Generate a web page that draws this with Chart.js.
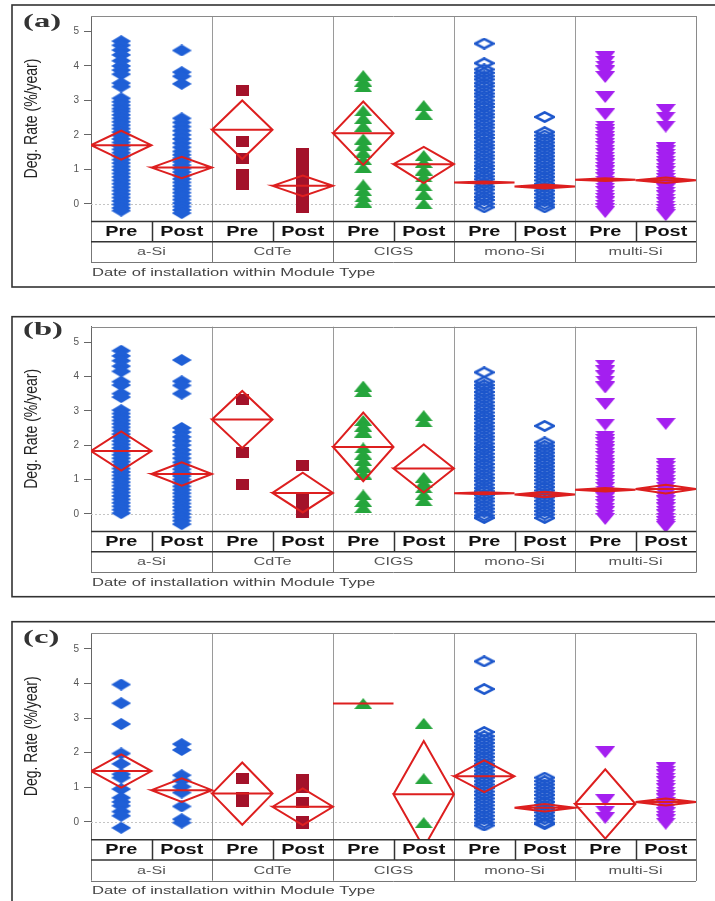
<!DOCTYPE html>
<html><head><meta charset="utf-8">
<script src="https://cdn.jsdelivr.net/npm/chart.js@4.4.1/dist/chart.umd.min.js"></script>
<style>
html,body{margin:0;padding:0;background:#fff;}
#wrap{position:relative;width:715px;height:901px;overflow:hidden;background:#fff;}
canvas{position:absolute;left:0;}
</style></head><body>
<div id="wrap">
<canvas id="cA" width="715" height="300" style="top:0px"></canvas>
<canvas id="cB" width="715" height="305" style="top:300px"></canvas>
<canvas id="cC" width="715" height="296" style="top:605px"></canvas>
</div>
<script>
// ---------- labels ----------
const moduleTypes = ['a-Si','CdTe','CIGS','mono-Si','multi-Si'];
const periods = ['Pre','Post'];
const yTicks = [0,1,2,3,4,5];
const panelLabels = ['(a)','(b)','(c)'];
const yTitle = 'Deg. Rate (%/year)';
const xTitle = 'Date of installation within Module Type';

// ---------- panel (a) ----------
const aSiPreA = [4.72,4.6,4.46,4.32,4.15,4.0,3.88,3.76,3.5,3.4,3.06,2.96,2.86,2.76,2.68,2.58,2.48,2.38,2.28,2.18,2.08,1.98,1.88,1.78,1.68,1.58,1.48,1.38,1.28,1.18,1.08,0.98,0.88,0.78,0.68,0.58,0.48,0.38,0.28,0.18,0.08,-0.02,-0.12,-0.2];
const aSiPostA = [4.45,3.82,3.7,3.48,2.48,2.36,2.24,2.12,2.0,1.88,1.76,1.64,1.52,1.42,1.32,1.22,1.12,1.02,0.92,0.82,0.72,0.62,0.52,0.42,0.32,0.22,0.12,0.02,-0.08,-0.18,-0.27];
const cdtePreA = [3.3,1.8,1.32,0.85,0.55];
const cdtePostA = [1.45,1.32,1.2,1.06,0.92,0.8,0.68,0.56,0.45,0.34,0.22,0.1,0.0,-0.1];
const cigsPreA = [3.72,3.56,3.4,2.7,2.48,2.25,1.88,1.68,1.48,1.28,1.05,0.55,0.38,0.2,0.05];
const cigsPostA = [2.85,2.6,1.4,1.2,0.98,0.78,0.52,0.28,0.0];
const monoPreA = [4.65,4.08,3.9,3.8,3.7,3.61,3.5,3.41,3.3,3.2,3.11,3.0,2.9,2.81,2.7,2.6,2.51,2.4,2.3,2.21,2.1,2.0,1.91,1.8,1.7,1.61,1.5,1.4,1.31,1.2,1.1,1.01,0.9,0.8,0.71,0.6,0.5,0.41,0.3,0.2,0.11,0.0,-0.1];
const monoPostA = [2.52,2.08,1.98,1.88,1.78,1.68,1.58,1.48,1.38,1.28,1.18,1.08,0.98,0.88,0.78,0.68,0.58,0.48,0.38,0.28,0.18,0.08,-0.02,-0.1];
const multiPreA = [4.25,4.12,3.98,3.84,3.68,3.1,2.6,2.24,2.14,2.04,1.94,1.84,1.74,1.64,1.54,1.44,1.34,1.24,1.14,1.04,0.94,0.84,0.74,0.64,0.54,0.44,0.34,0.24,0.14,0.04,-0.06,-0.16,-0.24];
const multiPostA = [2.72,2.5,2.24,1.62,1.52,1.42,1.32,1.22,1.12,1.02,0.92,0.82,0.72,0.62,0.52,0.42,0.32,0.22,0.12,0.02,-0.08,-0.18,-0.26,-0.33];
const meanA  = [1.7, 1.05, 2.15, 0.52, 2.05, 1.15, 0.62, 0.5, 0.7, 0.68];
const upperA = [2.12,1.36, 3.0, 0.82, 2.97, 1.65, 0.65, 0.56, 0.74, 0.76];
const lowerA = [1.28,0.74, 1.3, 0.22, 1.13, 0.6, 0.59, 0.44, 0.66, 0.6];

// ---------- panel (b) ----------
const aSiPreB = [4.75,4.6,4.46,4.3,4.15,3.85,3.75,3.5,3.4,3.02,2.92,2.82,2.72,2.62,2.52,2.42,2.32,2.22,2.12,2.02,1.92,1.82,1.72,1.62,1.52,1.42,1.32,1.22,1.12,1.02,0.92,0.82,0.72,0.62,0.52,0.42,0.32,0.22,0.12,0.02];
const aSiPostB = [4.48,3.86,3.74,3.5,2.5,2.38,2.24,2.12,2.0,1.86,1.74,1.62,1.5,1.4,1.3,1.2,1.1,1.0,0.9,0.8,0.7,0.6,0.5,0.4,0.3,0.2,0.1,0.0,-0.1,-0.2,-0.3];
const cdtePreB = [3.32,1.8,0.86];
const cdtePostB = [1.4,0.42,0.3,0.16,0.05];
const cigsPreB = [3.72,3.56,2.72,2.55,2.38,1.92,1.74,1.55,1.36,1.16,0.55,0.36,0.18];
const cigsPostB = [2.86,2.68,1.06,0.9,0.76,0.56,0.38];
const monoPreB = [4.12,3.85,3.75,3.66,3.55,3.45,3.36,3.25,3.15,3.06,2.95,2.85,2.76,2.65,2.55,2.46,2.35,2.25,2.16,2.05,1.95,1.86,1.75,1.65,1.56,1.45,1.35,1.26,1.15,1.05,0.96,0.85,0.75,0.66,0.55,0.45,0.36,0.25,0.15,0.06,-0.05,-0.12];
const monoPostB = [2.56,2.08,1.98,1.88,1.78,1.68,1.58,1.48,1.38,1.28,1.18,1.08,0.98,0.88,0.78,0.68,0.58,0.48,0.38,0.28,0.18,0.08,-0.02,-0.12];
const multiPreB = [4.3,4.15,4.0,3.85,3.68,3.2,2.6,2.25,2.15,2.05,1.95,1.85,1.75,1.65,1.55,1.45,1.35,1.25,1.15,1.05,0.95,0.85,0.75,0.65,0.55,0.45,0.35,0.25,0.15,0.05,-0.05,-0.15];
const multiPostB = [2.62,1.46,1.36,1.26,1.16,1.06,0.96,0.86,0.76,0.66,0.56,0.46,0.36,0.26,0.16,0.06,-0.04,-0.14,-0.24,-0.32,-0.38];
const meanB  = [1.83,1.16,2.75,0.61,1.95,1.32,0.6, 0.56,0.7, 0.72];
const upperB = [2.4, 1.5, 3.58,1.2, 2.95,2.02,0.63,0.64,0.75,0.85];
const lowerB = [1.26,0.82,1.92,0.04,0.95,0.62,0.57,0.48,0.65,0.59];

// ---------- panel (c) ----------
const aSiPreC = [3.97,3.43,2.83,1.98,1.68,1.38,1.28,0.95,0.7,0.58,0.47,0.3,0.18,-0.17];
const aSiPostC = [2.25,2.08,1.35,1.2,1.02,0.85,0.45,0.08,-0.02];
const cdtePreC = [1.25,0.72,0.6];
const cdtePostC = [1.22,1.0,0.55,0.02,-0.04];
const cigsPreC = [3.42];
const cigsPostC = [2.85,1.25,-0.02];
const monoPreC = [4.64,3.84,2.6,2.48,2.38,2.28,2.18,2.08,1.98,1.88,1.78,1.68,1.58,1.48,1.38,1.28,1.18,1.08,0.98,0.88,0.78,0.68,0.58,0.48,0.38,0.28,0.18,0.08,-0.02,-0.1];
const monoPostC = [1.28,1.18,1.08,0.98,0.88,0.78,0.68,0.58,0.48,0.38,0.28,0.18,0.08,-0.02,-0.06];
const multiPreC = [2.02,0.63,0.3,0.12];
const multiPostC = [1.55,1.45,1.35,1.25,1.15,1.05,0.95,0.85,0.75,0.65,0.55,0.45,0.35,0.25,0.15,0.05,-0.05];
const meanC  = [1.47,0.92,0.82, 0.44, 3.42,0.8,  1.32,0.41,0.52, 0.58];
const upperC = [1.95,1.26,1.72, 0.97, 3.42,2.34, 1.78,0.52,1.52, 0.68];
const lowerC = [0.99,0.58,-0.08,-0.09,3.42,-0.74,0.86,0.3, -0.48,0.48];

// ---------- styling ----------
const RED = '#dd1f1f';
function makeMarker(kind, color, w, h) {
  const c = document.createElement('canvas'); c.width = w; c.height = h;
  const g = c.getContext('2d');
  g.beginPath();
  if (kind === 'diamond' || kind === 'open') {
    const i = kind === 'open' ? 1.3 : 0;
    g.moveTo(w/2, i); g.lineTo(w - i, h/2); g.lineTo(w/2, h - i); g.lineTo(i, h/2); g.closePath();
  } else if (kind === 'square') {
    g.rect(0, 0, w, h);
  } else if (kind === 'up') {
    g.moveTo(w/2, 0); g.lineTo(w, h); g.lineTo(0, h); g.closePath();
  } else {
    g.moveTo(0, 0); g.lineTo(w, 0); g.lineTo(w/2, h); g.closePath();
  }
  if (kind === 'open') { g.strokeStyle = color; g.lineWidth = 2.6; g.stroke(); }
  else { g.fillStyle = color; g.fill(); }
  return c;
}
const markers = [
  makeMarker('diamond', '#1f5fd6', 20, 12),
  makeMarker('square', '#a3122a', 13, 11),
  makeMarker('up', '#25a53c', 18, 11),
  makeMarker('open', '#1d57cc', 21, 12),
  makeMarker('down', '#a41ff0', 20, 12)
];

function sText(ctx, txt, x, y, sx, align) {
  ctx.save(); ctx.translate(x, y); ctx.scale(sx, 1);
  ctx.textAlign = align; ctx.textBaseline = 'middle';
  ctx.fillText(txt, 0, 0); ctx.restore();
}
function seg(ctx, x1, y1, x2, y2) { ctx.beginPath(); ctx.moveTo(x1, y1); ctx.lineTo(x2, y2); ctx.stroke(); }

const decor = {
  id: 'decor',
  beforeDatasetsDraw(chart, args, o) {
    const { ctx, chartArea: a, scales: { x, y } } = chart;
    ctx.save();
    ctx.strokeStyle = '#c4c4c4'; ctx.lineWidth = 1; ctx.setLineDash([2, 2]);
    const y0 = Math.round(y.getPixelForValue(0)) + 0.5;
    seg(ctx, a.left, y0, a.right, y0);
    ctx.setLineDash([]);
    ctx.strokeStyle = '#9a9a9a';
    for (let k = 1; k < moduleTypes.length; k++) {
      const px = Math.round(x.getPixelForValue(2 * k)) + 0.5;
      seg(ctx, px, a.top, px, a.bottom);
    }
    ctx.restore();
  },
  afterDraw(chart, args, o) {
    const { ctx, chartArea: a, scales: { x } } = chart;
    ctx.save();
    const L = a.left, R = a.right, B = a.bottom;
    const r2 = B + 20.7, r3 = B + 41.4;
    // plot box
    ctx.strokeStyle = '#8a8a8a'; ctx.lineWidth = 1;
    seg(ctx, L, Math.round(a.top) + 0.5, R, Math.round(a.top) + 0.5);
    seg(ctx, Math.round(R) + 0.5, a.top, Math.round(R) + 0.5, r3);
    // group boundaries in table
    ctx.strokeStyle = '#777';
    for (let k = 0; k <= moduleTypes.length; k++) {
      const px = Math.round(x.getPixelForValue(2 * k)) + 0.5;
      seg(ctx, px, B, px, r3);
    }
    seg(ctx, L, Math.round(r3) + 0.5, R, Math.round(r3) + 0.5);
    // pre/post row
    ctx.strokeStyle = '#333'; ctx.lineWidth = 1.5;
    seg(ctx, L, B + 0.5, R, B + 0.5);
    seg(ctx, L, r2, R, r2);
    for (let k = 0; k < moduleTypes.length; k++) {
      const px = Math.round(x.getPixelForValue(2 * k + 1)) + 0.5;
      seg(ctx, px, B, px, r2);
    }
    // texts
    ctx.fillStyle = '#111'; ctx.font = 'bold 14px "Liberation Sans", Arial, sans-serif';
    for (let i = 0; i < 10; i++) {
      sText(ctx, periods[i % 2], x.getPixelForValue(i + 0.5), B + 11, 1.42, 'center');
    }
    ctx.fillStyle = '#555'; ctx.font = '10px "Liberation Sans", Arial, sans-serif';
    moduleTypes.forEach((m, k) => sText(ctx, m, x.getPixelForValue(2 * k + 1), B + 31.5, 1.62, 'center'));
    ctx.fillStyle = '#444';
    sText(ctx, xTitle, L + 1, B + 52, 1.66, 'left');
    // y title
    ctx.save();
    ctx.translate(32, (a.top + a.bottom) / 2);
    ctx.rotate(-Math.PI / 2); ctx.scale(1, 1.3);
    ctx.fillStyle = '#222'; ctx.font = '14px "Liberation Sans", Arial, sans-serif';
    ctx.textAlign = 'center'; ctx.textBaseline = 'middle';
    ctx.fillText(yTitle, 0, 0);
    ctx.restore();
    // panel label
    ctx.fillStyle = '#333'; ctx.font = 'bold 19px "Liberation Serif", serif';
    sText(ctx, o.label, 23, o.labelY, 1.72, 'left');
    // outer frame
    ctx.strokeStyle = '#333'; ctx.lineWidth = 1.6;
    ctx.strokeRect(12, o.frameTop, 720, o.frameBottom - o.frameTop);
    ctx.restore();
  }
};

function buildChart(id, pts, mean, upper, lower, plug, padTop, padBottom) {
  const datasets = [];
  mean.forEach((m, i) => {
    datasets.push({
      showLine: true, order: 0,
      data: [{x: i, y: m}, {x: i + 0.5, y: upper[i]}, {x: i + 1, y: m}, {x: i + 0.5, y: lower[i]}, {x: i, y: m}, {x: i + 1, y: m}],
      borderColor: RED, borderWidth: 2, pointRadius: 0, fill: false, tension: 0, borderJoinStyle: 'miter'
    });
  });
  pts.forEach((arr, i) => {
    datasets.push({
      order: 1, showLine: false,
      data: arr.map(v => ({x: i + 0.5, y: v})),
      pointStyle: markers[Math.floor(i / 2)], pointRadius: 6
    });
  });
  new Chart(document.getElementById(id), {
    type: 'scatter',
    data: { datasets },
    plugins: [decor],
    options: {
      responsive: false, animation: false, devicePixelRatio: 1, events: [],
      layout: { padding: { left: 51, right: 19, top: padTop, bottom: padBottom } },
      plugins: { legend: { display: false }, tooltip: { enabled: false }, decor: plug },
      scales: {
        x: { type: 'linear', min: 0, max: 10, display: false },
        y: {
          min: -0.5, max: 5.45,
          afterBuildTicks: s => { s.ticks = yTicks.map(v => ({ value: v })); },
          afterFit: s => { s.width = 40; },
          ticks: { color: '#555', padding: 5, font: { size: 10, family: '"Liberation Sans", Arial, sans-serif' } },
          grid: { drawOnChartArea: false, drawTicks: true, tickLength: 7, tickColor: '#666' },
          border: { display: true, color: '#666', width: 1 }
        }
      }
    }
  });
}

buildChart('cA', [aSiPreA, aSiPostA, cdtePreA, cdtePostA, cigsPreA, cigsPostA, monoPreA, monoPostA, multiPreA, multiPostA],
  meanA, upperA, lowerA, { label: panelLabels[0], labelY: 22, frameTop: 5, frameBottom: 287 }, 16, 79);
buildChart('cB', [aSiPreB, aSiPostB, cdtePreB, cdtePostB, cigsPreB, cigsPostB, monoPreB, monoPostB, multiPreB, multiPostB],
  meanB, upperB, lowerB, { label: panelLabels[1], labelY: 30, frameTop: 16.7, frameBottom: 296.7 }, 26.7, 74);
buildChart('cC', [aSiPreC, aSiPostC, cdtePreC, cdtePostC, cigsPreC, cigsPostC, monoPreC, monoPostC, multiPreC, multiPostC],
  meanC, upperC, lowerC, { label: panelLabels[2], labelY: 33, frameTop: 16.7, frameBottom: 320 }, 28.3, 61.7);
</script>
</body></html>
